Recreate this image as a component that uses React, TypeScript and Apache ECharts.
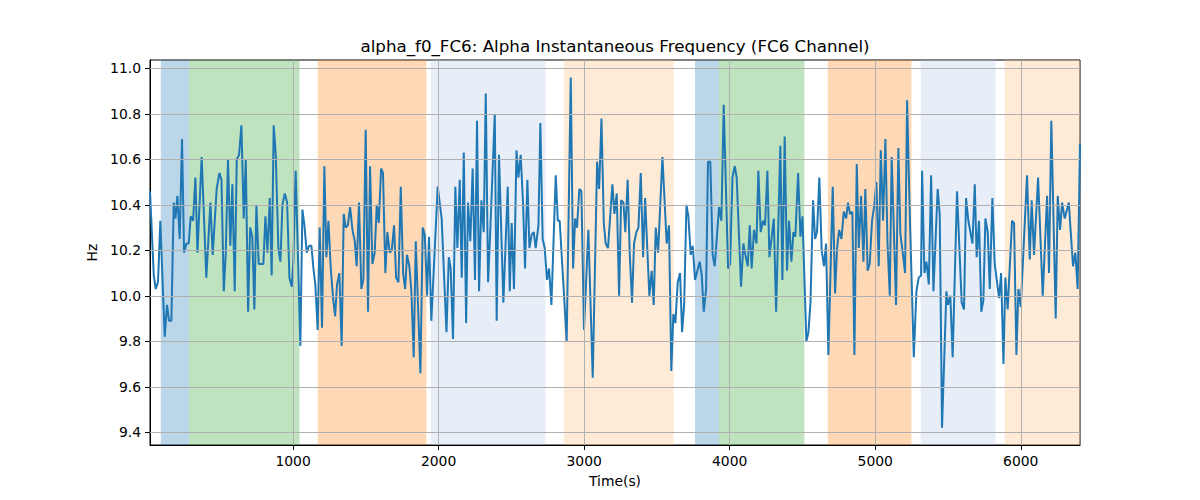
import React, { useEffect, useRef } from "react";
import * as echarts from "echarts";

const TITLE = "alpha_f0_FC6: Alpha Instantaneous Frequency (FC6 Channel)";
const X_NAME = "Time(s)";
const Y_NAME = "Hz";

const X_MIN = 17;
const X_MAX = 6407;
const Y_MIN = 9.344;
const Y_MAX = 11.037;

const X_TICKS = [1000, 2000, 3000, 4000, 5000, 6000];
const Y_TICKS = [9.4, 9.6, 9.8, 10.0, 10.2, 10.4, 10.6, 10.8, 11.0];

const BAND_STARTS = [91, 285, 1169, 1946, 2860, 3762, 3927, 4674, 5313, 5890];
const BAND_ENDS = [285, 1044, 1916, 2734, 3615, 3927, 4513, 5249, 5826, 6407];
const BAND_COLORS = [
  "#1f77b4", "#2ca02c", "#ff7f0e", "#aec7e8", "#ffbb78",
  "#1f77b4", "#2ca02c", "#ff7f0e", "#aec7e8", "#ffbb78",
];

const TIMES = [
  17, 43, 56, 72, 88, 118, 134, 148, 164, 180, 192, 205, 221, 237, 251, 267, 283, 297, 313, 329,
  343, 372, 404, 432, 448, 475, 494, 508, 524, 537, 553, 569, 583, 599, 613, 629, 645, 661, 675, 691,
  705, 720, 734, 748, 764, 796, 810, 824, 840, 853, 867, 881, 899, 913, 927, 943, 959, 975, 991, 1002,
  1018, 1050, 1064, 1078, 1094, 1110, 1126, 1140, 1153, 1169, 1183, 1199, 1215, 1229, 1243, 1259, 1275, 1289, 1302, 1318,
  1334, 1348, 1362, 1376, 1392, 1408, 1424, 1437, 1453, 1469, 1483, 1499, 1515, 1529, 1545, 1561, 1575, 1589, 1605, 1618,
  1634, 1648, 1664, 1678, 1694, 1708, 1724, 1740, 1756, 1770, 1783, 1799, 1813, 1829, 1843, 1875, 1891, 1905, 1921, 1934,
  1950, 1994, 2021, 2054, 2070, 2083, 2099, 2115, 2129, 2145, 2159, 2173, 2189, 2202, 2218, 2234, 2250, 2264, 2278, 2294,
  2310, 2324, 2340, 2354, 2386, 2399, 2415, 2445, 2475, 2489, 2502, 2518, 2535, 2548, 2564, 2580, 2594, 2610, 2624, 2640,
  2654, 2667, 2686, 2699, 2715, 2729, 2745, 2759, 2775, 2805, 2819, 2832, 2880, 2908, 2924, 2938, 2951, 2967, 2981, 2999,
  3029, 3059, 3089, 3103, 3119, 3135, 3148, 3164, 3194, 3208, 3224, 3240, 3254, 3270, 3283, 3299, 3313, 3329, 3343, 3359,
  3373, 3389, 3405, 3419, 3435, 3448, 3464, 3478, 3492, 3508, 3538, 3567, 3583, 3599, 3613, 3627, 3643, 3659, 3673, 3687,
  3703, 3716, 3732, 3746, 3762, 3778, 3794, 3808, 3822, 3838, 3851, 3867, 3883, 3897, 3927, 3943, 3959, 3989, 4003, 4019,
  4035, 4048, 4078, 4094, 4108, 4124, 4138, 4151, 4167, 4184, 4197, 4213, 4229, 4243, 4259, 4273, 4303, 4319, 4348, 4362,
  4378, 4394, 4408, 4424, 4438, 4451, 4470, 4486, 4500, 4527, 4541, 4555, 4573, 4587, 4600, 4616, 4632, 4648, 4662, 4678,
  4708, 4724, 4738, 4752, 4768, 4784, 4800, 4813, 4827, 4843, 4857, 4873, 4887, 4903, 4919, 4932, 4948, 4962, 4978, 4994,
  5008, 5024, 5038, 5054, 5070, 5084, 5100, 5113, 5143, 5159, 5173, 5191, 5205, 5219, 5237, 5265, 5283, 5299, 5315, 5322,
  5338, 5352, 5368, 5384, 5400, 5429, 5443, 5459, 5489, 5500, 5516, 5532, 5562, 5594, 5610, 5624, 5640, 5668, 5684, 5697,
  5713, 5729, 5743, 5757, 5773, 5787, 5805, 5821, 5851, 5865, 5881, 5894, 5910, 5940, 5954, 5970, 5984, 6000, 6043, 6062,
  6075, 6091, 6119, 6151, 6181, 6194, 6210, 6240, 6254, 6270, 6284, 6302, 6330, 6359, 6375, 6391, 6407,
];

const FREQ_HZ = [
  10.46, 10.09, 10.03, 10.06, 10.33, 9.82, 9.96, 9.89, 9.89, 10.41, 10.34, 10.44, 10.25, 10.69, 10.19, 10.23, 10.23, 10.35, 10.33, 10.52,
  10.19, 10.61, 10.08, 10.41, 10.18, 10.47, 10.54, 10.51, 10.02, 10.18, 10.60, 10.22, 10.49, 10.02, 10.60, 10.62, 10.75, 10.34, 10.60, 9.93,
  10.30, 10.26, 9.94, 10.40, 10.14, 10.14, 10.35, 10.19, 10.43, 10.09, 10.75, 10.62, 10.21, 10.15, 10.40, 10.45, 10.41, 10.08, 10.04, 10.15,
  10.55, 9.78, 10.38, 10.31, 10.19, 10.22, 10.22, 10.12, 10.05, 9.85, 10.30, 9.86, 10.57, 10.17, 10.33, 10.12, 9.99, 9.91, 10.05, 10.10,
  9.78, 10.36, 10.30, 10.31, 10.39, 10.29, 10.24, 10.13, 10.41, 10.03, 10.07, 10.73, 9.93, 10.57, 10.14, 10.19, 10.40, 10.32, 10.56, 10.54,
  10.10, 10.28, 10.19, 10.20, 10.31, 10.08, 10.06, 10.48, 10.10, 10.03, 10.18, 10.13, 10.02, 9.73, 10.24, 9.66, 10.30, 10.27, 10.00, 10.26,
  9.89, 10.48, 10.34, 9.84, 10.17, 10.12, 9.81, 10.48, 10.21, 10.51, 10.08, 10.63, 9.88, 10.41, 10.24, 10.56, 10.07, 10.77, 10.02, 10.42,
  10.28, 10.89, 10.06, 10.27, 10.80, 9.89, 10.62, 9.97, 10.48, 10.02, 10.32, 10.03, 10.64, 10.52, 10.62, 10.41, 10.12, 10.51, 10.21, 10.27,
  10.28, 10.21, 10.31, 10.76, 10.25, 10.21, 10.07, 10.12, 9.96, 10.53, 10.33, 10.33, 9.80, 10.96, 10.12, 10.34, 10.30, 10.47, 10.46, 9.85,
  10.29, 9.64, 10.59, 10.47, 10.78, 10.32, 10.23, 10.21, 10.49, 10.36, 10.45, 10.00, 10.42, 10.41, 10.28, 10.51, 10.19, 9.97, 10.23, 10.28,
  10.30, 10.54, 10.17, 10.43, 10.19, 10.00, 10.11, 9.96, 10.30, 10.19, 10.61, 10.23, 10.31, 9.67, 9.92, 9.88, 10.06, 10.10, 9.84, 9.96,
  10.40, 10.35, 10.18, 10.22, 10.07, 10.11, 10.15, 10.09, 9.93, 10.03, 10.59, 10.59, 10.18, 10.13, 10.39, 10.33, 10.84, 10.12, 10.14, 10.52,
  10.57, 10.52, 10.04, 10.23, 10.18, 10.13, 10.31, 10.12, 10.29, 10.23, 10.55, 10.28, 10.33, 10.31, 10.55, 10.17, 10.34, 9.93, 10.66, 10.07,
  10.70, 10.11, 10.33, 10.15, 10.28, 10.26, 10.54, 10.26, 10.35, 9.80, 9.84, 9.97, 10.42, 10.25, 10.28, 10.52, 10.20, 10.13, 10.23, 9.74,
  10.48, 10.01, 10.21, 10.29, 10.25, 10.37, 10.34, 10.41, 10.36, 10.37, 9.74, 10.58, 10.21, 10.44, 10.15, 10.47, 10.11, 10.14, 10.33, 10.40,
  10.50, 10.13, 10.64, 10.33, 10.69, 10.24, 10.00, 10.61, 9.96, 10.65, 10.27, 10.18, 10.10, 10.86, 10.37, 9.73, 10.02, 10.08, 10.09, 10.55,
  10.10, 10.15, 10.05, 10.53, 10.02, 10.47, 10.36, 9.42, 10.02, 9.96, 10.00, 9.73, 10.46, 9.97, 9.94, 10.43, 10.33, 10.23, 10.49, 10.17,
  10.33, 9.93, 9.98, 10.34, 10.28, 10.03, 10.43, 10.14, 9.99, 10.10, 9.70, 10.08, 9.94, 10.33, 10.32, 9.74, 10.03, 9.95, 10.53, 10.16,
  10.42, 10.18, 10.52, 10.00, 10.44, 10.10, 10.77, 9.90, 10.44, 10.29, 10.41, 10.34, 10.41, 10.13, 10.19, 10.03, 10.67,
];

const FONT = "DejaVu Sans";

export default function App() {
  const ref = useRef<HTMLDivElement>(null);

  useEffect(() => {
    if (!ref.current) return;
    const chart = echarts.init(ref.current, null, { renderer: "svg" });

    const lineData = TIMES.map((t, i) => [t, FREQ_HZ[i]]);
    const bands = BAND_STARTS.map((s, i) => [
      { xAxis: s, itemStyle: { color: BAND_COLORS[i], opacity: 0.3 } },
      { xAxis: BAND_ENDS[i] },
    ]);
    const gridLines = [
      ...X_TICKS.map((v) => ({ xAxis: v })),
      ...Y_TICKS.map((v) => ({ yAxis: v })),
    ];

    chart.setOption({
      animation: false,
      backgroundColor: "#ffffff",
      textStyle: { fontFamily: FONT },
      grid: {
        left: 150,
        right: 120,
        top: 60,
        bottom: 55,
        show: true,
        borderColor: "#000000",
        borderWidth: 1,
        backgroundColor: "transparent",
      },
      graphic: [
        {
          type: "text",
          x: 615,
          y: 46,
          style: {
            text: TITLE,
            fontFamily: FONT,
            fontSize: 16.7,
            fill: "#000000",
            textAlign: "center",
            textVerticalAlign: "middle",
          },
        },
      ],
      xAxis: {
        type: "value",
        min: X_MIN,
        max: X_MAX,
        name: X_NAME,
        nameLocation: "middle",
        nameGap: 29,
        nameTextStyle: { fontFamily: FONT, fontSize: 13.9, color: "#000000" },
        axisLine: { show: true, onZero: false, lineStyle: { color: "#000000", width: 1 } },
        axisTick: {
          show: true,
          length: 5,
          customValues: X_TICKS,
          lineStyle: { color: "#000000", width: 1 },
        },
        axisLabel: {
          show: true,
          customValues: X_TICKS,
          margin: 9,
          fontFamily: FONT,
          fontSize: 13.9,
          color: "#000000",
          formatter: (v: number) => String(Math.round(v)),
        },
        splitLine: { show: false },
      },
      yAxis: {
        type: "value",
        min: Y_MIN,
        max: Y_MAX,
        name: Y_NAME,
        nameLocation: "middle",
        nameGap: 42,
        nameRotate: 90,
        nameTextStyle: { fontFamily: FONT, fontSize: 13.9, color: "#000000" },
        axisLine: { show: true, onZero: false, lineStyle: { color: "#000000", width: 1 } },
        axisTick: {
          show: true,
          length: 5,
          customValues: Y_TICKS,
          lineStyle: { color: "#000000", width: 1 },
        },
        axisLabel: {
          show: true,
          customValues: Y_TICKS,
          margin: 9,
          fontFamily: FONT,
          fontSize: 13.9,
          color: "#000000",
          formatter: (v: number) => v.toFixed(1),
        },
        splitLine: { show: false },
      },
      series: [
        {
          type: "line",
          data: [],
          z: 1,
          silent: true,
          markArea: {
            silent: true,
            data: bands,
          },
        },
        {
          type: "line",
          data: [],
          z: 2,
          silent: true,
          markLine: {
            silent: true,
            symbol: "none",
            label: { show: false },
            lineStyle: { color: "#b0b0b0", width: 1, type: "solid" },
            data: gridLines,
          },
        },
        {
          type: "line",
          data: lineData,
          z: 3,
          showSymbol: false,
          symbol: "none",
          lineStyle: { color: "#1f77b4", width: 2 },
        },
      ],
    });

    return () => {
      chart.dispose();
    };
  }, []);

  return (
    <div
      ref={ref}
      style={{ position: "fixed", left: 0, top: 0, width: 1200, height: 500 }}
    />
  );
}
